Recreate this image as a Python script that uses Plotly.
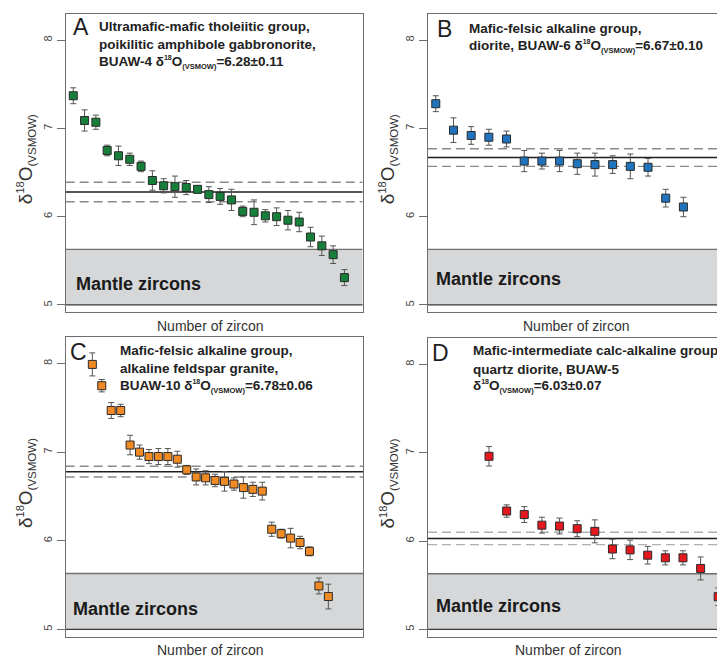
import plotly.graph_objects as go

FONT = "Liberation Sans, Arial, Helvetica, sans-serif"
W, H = 717, 657

# ---- zircon δ18O data (‰ VSMOW), grains sorted from high to low, with 1σ errors ----
a_d18o = [7.37, 7.09, 7.07, 6.75, 6.69, 6.65, 6.57, 6.41, 6.35, 6.34, 6.33, 6.31, 6.25,
          6.23, 6.19, 6.06, 6.05, 6.01, 6.00, 5.96, 5.94, 5.77, 5.67, 5.57, 5.31]
a_err = [0.09, 0.12, 0.08, 0.06, 0.11, 0.07, 0.06, 0.11, 0.08, 0.12, 0.08, 0.04, 0.09,
         0.09, 0.12, 0.06, 0.14, 0.07, 0.10, 0.11, 0.11, 0.11, 0.11, 0.10, 0.09]

b_d18o = [7.28, 6.98, 6.92, 6.90, 6.88, 6.63, 6.63, 6.63, 6.60, 6.59, 6.59, 6.57, 6.56,
          6.21, 6.11]
b_err = [0.09, 0.14, 0.10, 0.09, 0.09, 0.12, 0.09, 0.12, 0.12, 0.13, 0.10, 0.14, 0.10,
         0.10, 0.11]

c_d18o = [7.99, 7.75, 7.47, 7.47, 7.08, 7.00, 6.95, 6.95, 6.95, 6.92, 6.80, 6.72, 6.71,
          6.68, 6.67, 6.64, 6.60, 6.58, 6.56, 6.13, 6.08, 6.03, 5.98, 5.88, 5.49, 5.37]
c_err = [0.13, 0.07, 0.09, 0.07, 0.11, 0.08, 0.08, 0.09, 0.09, 0.09, 0.05, 0.09, 0.08,
         0.07, 0.11, 0.07, 0.12, 0.08, 0.10, 0.08, 0.05, 0.11, 0.07, 0.05, 0.09, 0.14]

d_d18o = [6.96, 6.34, 6.30, 6.18, 6.17, 6.14, 6.11, 5.91, 5.90, 5.84, 5.81, 5.81, 5.69,
          5.37]
d_err = [0.11, 0.07, 0.09, 0.09, 0.09, 0.09, 0.13, 0.11, 0.11, 0.10, 0.08, 0.08, 0.13,
         0.10]

# weighted means of each sample (value, ± error)
sample_means = [6.28, 6.67, 6.78, 6.03]
sample_errs = [0.11, 0.10, 0.06, 0.07]

# mantle zircon field
mantle_range = [5.0, 5.63]

y_ticks = [5, 6, 7, 8]
y_range = [4.917, 8.296]

panel_letters = ["A", "B", "C", "D"]
panel_titles = [
    ["Ultramafic-mafic tholeiitic group,",
     "poikilitic amphibole gabbronorite,",
     "BUAW-4 δ<sup><span style='font-size:7px'>18</span></sup>O"
     "<sub><span style='font-size:7.5px'>(VSMOW)</span></sub>=6.28±0.11"],
    ["Mafic-felsic alkaline group,",
     "diorite, BUAW-6 δ<sup><span style='font-size:7px'>18</span></sup>O"
     "<sub><span style='font-size:7.5px'>(VSMOW)</span></sub>=6.67±0.10"],
    ["Mafic-felsic alkaline group,",
     "alkaline feldspar granite,",
     "BUAW-10 δ<sup><span style='font-size:7px'>18</span></sup>O"
     "<sub><span style='font-size:7.5px'>(VSMOW)</span></sub>=6.78±0.06"],
    ["Mafic-intermediate calc-alkaline group,",
     "quartz diorite, BUAW-5",
     "δ<sup><span style='font-size:7px'>18</span></sup>O"
     "<sub><span style='font-size:7.5px'>(VSMOW)</span></sub>=6.03±0.07"],
]
marker_colors = ["#16803a", "#1f74bd", "#f08a24", "#e3191f"]
dash_colors = ["#8a8a8a", "#8a8a8a", "#8a8a8a", "#b0b0b0"]

series = [(a_d18o, a_err), (b_d18o, b_err), (c_d18o, c_err), (d_d18o, d_err)]

# ---- panel geometry in pixels: left, right, top, bottom ----
boxes = [
    (65.7, 362.5, 14.0, 312.3),
    (428.0, 717.0, 14.0, 312.3),
    (65.7, 363.3, 337.3, 636.7),
    (428.0, 717.0, 338.3, 636.7),
]
x_ranges = [[0.33, 26.6], [0.56, 16.9], [-1.82, 29.7], [-2.46, 13.93]]
mirror_right = [True, False, True, False]
# text anchors (pixel): letter (x, y), title x, title line y's, mantle label (x, y), x title (x, y)
letter_pos = [(71.0, 27.0), (434.5, 28.5), (67.5, 352.0), (430.0, 353.0)]
title_x = [96.7, 467.3, 118.3, 471.3]
title_ys = [[26.0, 44.0, 62.0], [28.0, 46.7], [350.0, 368.3, 386.0], [350.5, 369.0, 386.0]]
mantle_pos = [(74.0, 284.0), (434.0, 279.0), (71.0, 609.3), (434.0, 606.0)]
xtitle_pos = [(210.0, 325.5), (576.0, 325.5), (210.0, 650.0), (568.0, 650.0)]
ytitle_x = [40.0, 402.0, 40.0, 402.0]


def px(x):
    return x / W


def py(y):
    return 1 - y / H


fig = go.Figure()
layout = dict(
    width=W, height=H,
    margin=dict(l=0, r=0, t=0, b=0),
    paper_bgcolor="white", plot_bgcolor="white",
    showlegend=False,
    font=dict(family=FONT, color="#222222"),
)
shapes = []
annotations = []

for i, (vals, errs) in enumerate(series):
    n = i + 1
    xa = "x" if n == 1 else f"x{n}"
    ya = "y" if n == 1 else f"y{n}"
    xkey = "xaxis" if n == 1 else f"xaxis{n}"
    ykey = "yaxis" if n == 1 else f"yaxis{n}"
    left, right, top, bottom = boxes[i]

    layout[xkey] = dict(
        domain=[px(left), px(right)], anchor=ya, range=x_ranges[i],
        showgrid=False, zeroline=False, showticklabels=False, ticks="",
        showline=True, linecolor="#6e6e6e", linewidth=1.4, mirror=True,
    )
    layout[ykey] = dict(
        domain=[py(bottom), py(top)], anchor=xa, range=y_range,
        tickvals=y_ticks, ticks="outside", ticklen=8, tickwidth=1, tickcolor="#6e6e6e",
        tickangle=-90, tickfont=dict(size=11, color="#444444", family=FONT),
        showgrid=False, zeroline=False,
        showline=True, linecolor="#6e6e6e", linewidth=1.4,
        mirror=mirror_right[i],
    )

    # mantle zircon field
    shapes.append(dict(type="rect", xref=f"{xa} domain", yref=ya, x0=0, x1=1,
                       y0=mantle_range[0], y1=mantle_range[1],
                       fillcolor="#d5d7d8", line=dict(width=0), layer="below"))
    shapes.append(dict(type="line", xref=f"{xa} domain", yref=ya, x0=0, x1=1,
                       y0=mantle_range[1], y1=mantle_range[1],
                       line=dict(color="#707070", width=1.3), layer="below"))
    shapes.append(dict(type="line", xref=f"{xa} domain", yref=ya, x0=0, x1=1,
                       y0=mantle_range[0], y1=mantle_range[0],
                       line=dict(color="#3a3a3a", width=1.3), layer="below"))

    # weighted mean and its uncertainty
    m, e = sample_means[i], sample_errs[i]
    for yy in (m + e, m - e):
        shapes.append(dict(type="line", xref=f"{xa} domain", yref=ya, x0=0, x1=1,
                           y0=yy, y1=yy, layer="below",
                           line=dict(color=dash_colors[i], width=1.4, dash="9px,5px")))
    shapes.append(dict(type="line", xref=f"{xa} domain", yref=ya, x0=0, x1=1,
                       y0=m, y1=m, layer="below",
                       line=dict(color="#1e1e1e", width=1.5)))

    fig.add_trace(go.Scatter(
        x=list(range(1, len(vals) + 1)), y=vals, xaxis=xa, yaxis=ya,
        mode="markers",
        marker=dict(symbol="square", size=8, color=marker_colors[i],
                    line=dict(color="#2a2a2a", width=1)),
        error_y=dict(type="data", array=errs, visible=True,
                     color="#555555", thickness=1, width=3),
        cliponaxis=True,
    ))

    # panel letter
    lx, ly = letter_pos[i]
    annotations.append(dict(text=panel_letters[i], x=px(lx), y=py(ly), xref="paper", yref="paper",
                            xanchor="left", yanchor="middle", showarrow=False,
                            font=dict(size=23, color="#1e1e1e", family=FONT)))
    # sample description
    for line, yy in zip(panel_titles[i], title_ys[i]):
        annotations.append(dict(text=f"<b>{line}</b>", x=px(title_x[i]), y=py(yy),
                                xref="paper", yref="paper", xanchor="left", yanchor="middle",
                                showarrow=False,
                                font=dict(size=13.5, color="#222222", family=FONT)))
    # mantle field label
    mx, my = mantle_pos[i]
    annotations.append(dict(text="<b>Mantle zircons</b>", x=px(mx), y=py(my),
                            xref="paper", yref="paper", xanchor="left", yanchor="middle",
                            showarrow=False, font=dict(size=18, color="#1a1a1a", family=FONT)))
    # x axis title
    tx, ty = xtitle_pos[i]
    annotations.append(dict(text="Number of zircon", x=px(tx), y=py(ty),
                            xref="paper", yref="paper", xanchor="center", yanchor="middle",
                            showarrow=False, font=dict(size=14, color="#333333", family=FONT)))
    # y axis title
    annotations.append(dict(
        text="δ<sup><span style='font-size:11px'>18</span></sup>O"
             "<sub><span style='font-size:11.5px'>(VSMOW)</span></sub>",
        x=px(ytitle_x[i]), y=py((top + bottom) / 2 - 4), xref="paper", yref="paper",
        xanchor="right", yanchor="middle", textangle=-90, showarrow=False,
        font=dict(size=19, color="#333333", family=FONT)))

layout["shapes"] = shapes
layout["annotations"] = annotations
fig.update_layout(**layout)
fig.write_html("out.html")
